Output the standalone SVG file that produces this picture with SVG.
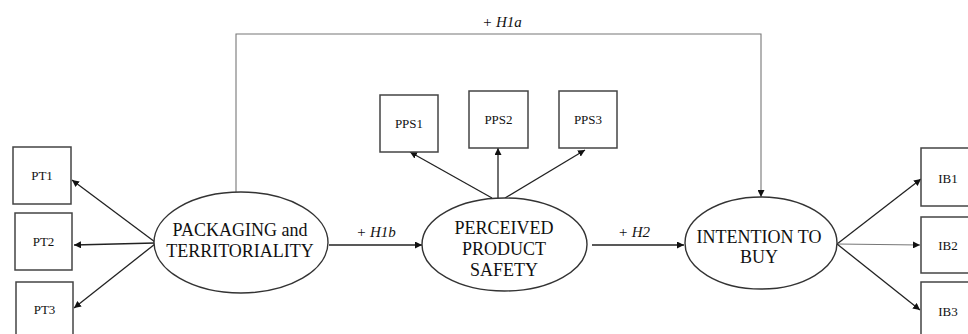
<svg xmlns="http://www.w3.org/2000/svg" width="968" height="334" viewBox="0 0 968 334">
  <defs>
    <marker id="ah" viewBox="0 0 10 10" refX="10" refY="5" markerWidth="7" markerHeight="7" markerUnits="userSpaceOnUse" orient="auto">
      <path d="M0,0 L10,5 L0,10 z" fill="#111"/>
    </marker>
    <style>
      .box { fill: #fff; stroke: #444; stroke-width: 1.5; }
      .ell { fill: #fff; stroke: #333; stroke-width: 1.4; }
      .lbl { font-family: "Liberation Serif", "Times New Roman", serif; font-size: 13px; fill: #111; text-anchor: middle; }
      .big { font-family: "Liberation Serif", "Times New Roman", serif; font-size: 18px; fill: #111; text-anchor: middle; }
      .hyp { font-family: "Liberation Serif", "Times New Roman", serif; font-size: 15px; font-style: italic; fill: #111; text-anchor: middle; }
      .c { fill: none; stroke: #222; stroke-width: 1.3; marker-end: url(#ah); }
      .cg { fill: none; stroke: #777; stroke-width: 1.1; marker-end: url(#ah); }
    </style>
  </defs>
  <rect width="968" height="334" fill="#fff"/>

  <g id="connectors">
    <!-- H1a: packaging to intention, routed over the top -->
    <path class="cg" d="M236,192 V34 H761 V197"/>
    <!-- packaging indicators -->
    <line class="c" x1="155" y1="242" x2="72" y2="180"/>
    <line class="c" x1="155" y1="243" x2="74" y2="245"/>
    <line class="c" x1="155" y1="244" x2="74" y2="308"/>
    <!-- H1b and H2 -->
    <line class="c" x1="329" y1="245" x2="422" y2="245"/>
    <line class="c" x1="592" y1="245" x2="684" y2="245"/>
    <!-- safety indicators -->
    <line class="c" x1="492" y1="198" x2="410" y2="152"/>
    <line class="c" x1="498" y1="198" x2="498" y2="148"/>
    <line class="c" x1="505" y1="198" x2="585" y2="150"/>
    <!-- intention indicators -->
    <line class="c" x1="837" y1="244" x2="921" y2="179"/>
    <line class="cg" x1="837" y1="244" x2="920" y2="245"/>
    <line class="c" x1="837" y1="244" x2="920" y2="310"/>
  </g>

  <text class="hyp" x="502" y="27">+ <tspan>H1a</tspan></text>
  <text class="hyp" x="376" y="237">+ H1b</text>
  <text class="hyp" x="634" y="237">+ H2</text>

  <g id="PT1"><rect class="box" x="13" y="147" width="58" height="57"/><text class="lbl" x="42" y="180">PT1</text></g>
  <g id="PT2"><rect class="box" x="15" y="213" width="57" height="57"/><text class="lbl" x="43.5" y="246">PT2</text></g>
  <g id="PT3"><rect class="box" x="16" y="282" width="57" height="60"/><text class="lbl" x="44.5" y="314">PT3</text></g>

  <g id="PPS1"><rect class="box" x="380" y="95" width="58" height="57"/><text class="lbl" x="409" y="128">PPS1</text></g>
  <g id="PPS2"><rect class="box" x="469" y="91" width="59" height="57"/><text class="lbl" x="498.5" y="124">PPS2</text></g>
  <g id="PPS3"><rect class="box" x="559" y="91" width="58" height="57"/><text class="lbl" x="588" y="124">PPS3</text></g>

  <g id="IB1"><rect class="box" x="921" y="148" width="60" height="58"/><text class="lbl" x="948" y="183">IB1</text></g>
  <g id="IB2"><rect class="box" x="921" y="217" width="60" height="56"/><text class="lbl" x="948" y="250">IB2</text></g>
  <g id="IB3"><rect class="box" x="921" y="282" width="60" height="60"/><text class="lbl" x="948" y="316">IB3</text></g>

  <g id="packaging">
    <ellipse class="ell" cx="241" cy="242.5" rx="87" ry="50.5"/>
    <text class="big" x="240" y="236">PACKAGING and</text>
    <text class="big" x="240" y="257">TERRITORIALITY</text>
  </g>
  <g id="safety">
    <ellipse class="ell" cx="504.5" cy="244.5" rx="82.5" ry="46.5"/>
    <text class="big" x="504" y="234">PERCEIVED</text>
    <text class="big" x="504" y="255">PRODUCT</text>
    <text class="big" x="504" y="276">SAFETY</text>
  </g>
  <g id="intention">
    <ellipse class="ell" cx="761" cy="243" rx="76" ry="46"/>
    <text class="big" x="759" y="243">INTENTION TO</text>
    <text class="big" x="759" y="263">BUY</text>
  </g>
</svg>
